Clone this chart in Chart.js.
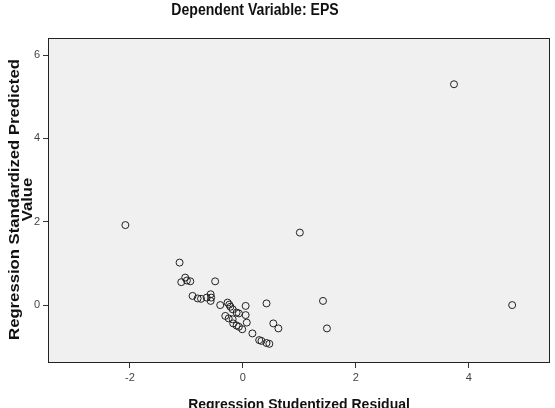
<!DOCTYPE html>
<html>
<head>
<meta charset="utf-8">
<script src="https://cdn.jsdelivr.net/npm/chart.js@4/dist/chart.umd.min.js"></script>
<style>
  html, body { margin: 0; padding: 0; background: #fff; }
  #wrap { width: 555px; height: 408px; }
</style>
</head>
<body>
<div id="wrap"><canvas id="scatter"></canvas></div>
<script>
// Regression Studentized Residual (x) vs Regression Standardized Predicted Value (y)
const residuals = [
  -2.08, -1.12, -1.02, -1.09, -0.99, -0.93, -0.49, -0.89, -0.80, -0.74,
  -0.64, -0.57, -0.56, -0.57, -0.40, -0.27, -0.24, -0.22, -0.18, -0.11,
  -0.07, 0.05, 0.05, 0.07, -0.31, -0.25, -0.18, -0.17, -0.11, -0.07,
  -0.01, 0.17, 0.29, 0.33, 0.42, 0.47, 0.42, 0.54, 0.63, 1.01,
  1.42, 1.49, 3.74, 4.77
];
const predicted = [
  1.92, 1.02, 0.66, 0.55, 0.59, 0.57, 0.57, 0.22, 0.16, 0.15,
  0.18, 0.26, 0.18, 0.10, 0.00, 0.06, 0.01, -0.04, -0.10, -0.18,
  -0.20, -0.02, -0.24, -0.42, -0.26, -0.32, -0.34, -0.44, -0.49, -0.52,
  -0.58, -0.68, -0.84, -0.86, -0.91, -0.93, 0.04, -0.44, -0.56, 1.74,
  0.10, -0.56, 5.30, 0.00
];
const xTicks = [-2, 0, 2, 4];
const yTicks = [0, 2, 4, 6];
const yTitleLines = ['Regression Standardized Predicted', 'Value'];

const points = residuals.map((x, i) => ({ x: x, y: predicted[i] }));

// grey plot background, frame, the condensed title and the stretched y title
const plotFrame = {
  id: 'plotFrame',
  beforeDraw(chart) {
    const { ctx, chartArea: a } = chart;
    ctx.save();
    ctx.fillStyle = '#f0f0f0';
    ctx.fillRect(a.left, a.top, a.right - a.left, a.bottom - a.top);
    ctx.restore();
  },
  afterDatasetsDraw(chart) {
    const { ctx, chartArea: a } = chart;
    ctx.save();
    ctx.strokeStyle = '#222';
    ctx.lineWidth = 1;
    ctx.strokeRect(a.left + 0.5, a.top + 0.5, a.right - a.left - 1, a.bottom - a.top - 1);
    ctx.restore();

    ctx.save();
    ctx.translate(255, 11);
    ctx.scale(0.88, 1);
    ctx.fillStyle = '#111';
    ctx.font = 'bold 16px Arial, "Liberation Sans", sans-serif';
    ctx.textAlign = 'center';
    ctx.textBaseline = 'middle';
    ctx.fillText('Dependent Variable: EPS', 0, 0);
    ctx.restore();

    ctx.save();
    ctx.translate(0, 199.5);
    ctx.rotate(-Math.PI / 2);
    ctx.scale(1.15, 1);
    ctx.fillStyle = '#111';
    ctx.font = 'bold 14.5px Arial, "Liberation Sans", sans-serif';
    ctx.textAlign = 'center';
    ctx.textBaseline = 'alphabetic';
    ctx.fillText(yTitleLines[0], 0, 18.5);
    ctx.fillText(yTitleLines[1], 0, 32);
    ctx.restore();
  }
};

new Chart(document.getElementById('scatter'), {
  type: 'scatter',
  data: {
    datasets: [{
      data: points,
      pointRadius: 3.5,
      pointHoverRadius: 3.5,
      pointBorderWidth: 1,
      borderColor: '#222',
      backgroundColor: 'rgba(0,0,0,0)'
    }]
  },
  options: {
    responsive: true,
    maintainAspectRatio: false,
    animation: false,
    layout: { padding: { top: 38, right: 5, left: 0, bottom: 0 } },
    plugins: {
      legend: { display: false },
      tooltip: { enabled: false }
    },
    scales: {
      x: {
        type: 'linear',
        min: -3.45,
        max: 5.44,
        afterBuildTicks: scale => { scale.ticks = xTicks.map(v => ({ value: v })); },
        afterFit: scale => { scale.height = 45; },
        border: { display: false },
        grid: { drawOnChartArea: false, drawTicks: true, tickLength: 5, color: '#333' },
        ticks: { color: '#444', padding: 3, font: { family: 'Arial, "Liberation Sans", sans-serif', size: 11 } },
        title: {
          display: true,
          text: 'Regression Studentized Residual',
          color: '#111',
          padding: { top: 0, bottom: -4 },
          font: { family: 'Arial, "Liberation Sans", sans-serif', size: 14, weight: 'bold', lineHeight: 1 }
        }
      },
      y: {
        type: 'linear',
        min: -1.39,
        max: 6.41,
        afterBuildTicks: scale => { scale.ticks = yTicks.map(v => ({ value: v })); },
        afterFit: scale => { scale.width = 48; },
        border: { display: false },
        grid: { drawOnChartArea: false, drawTicks: true, tickLength: 5, color: '#333' },
        ticks: { color: '#444', padding: 3, font: { family: 'Arial, "Liberation Sans", sans-serif', size: 11 } },
        title: { display: false }
      }
    }
  },
  plugins: [plotFrame]
});
</script>
</body>
</html>
